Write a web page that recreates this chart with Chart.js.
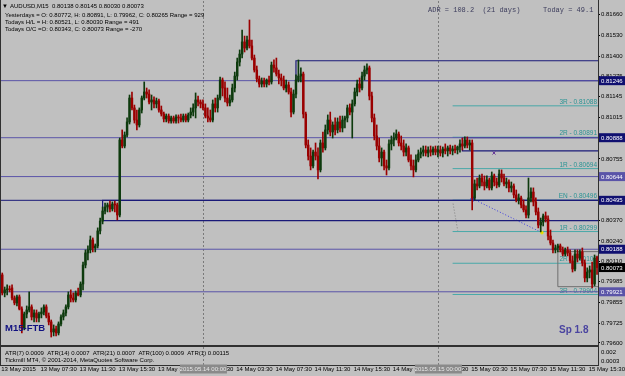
<!DOCTYPE html>
<html>
<head>
<meta charset="utf-8">
<script src="https://cdn.jsdelivr.net/npm/chart.js@4.4.0/dist/chart.umd.min.js"></script>
<style>
  html, body { margin: 0; padding: 0; background: #c0c0c0; overflow: hidden; }
  canvas { display: block; }
</style>
</head>
<body>
<canvas id="chart" width="625" height="376"></canvas>
<script>
// ===================================
//   AUDUSD M15 — 13..15 May 2015
//   candles
// ===================================

const opens = [
  0.80027,0.79914,0.79933,0.79939,0.79945,0.79882,0.79851,0.79889,0.79813,0.79694,0.79782,0.79807,
  0.79826,0.79763,0.79788,0.79757,0.79782,0.79794,0.79826,0.79769,0.79732,0.79669,0.79688,0.79663,
  0.79719,0.79763,0.79788,0.79826,0.79901,0.79882,0.79870,0.79914,0.79901,0.79970,0.80089,0.80165,
  0.80184,0.80246,0.80196,0.80209,0.80303,0.80365,0.80428,0.80453,0.80466,0.80441,0.80472,0.80466,
  0.80403,0.80874,0.80836,0.80905,0.80987,0.81137,0.81075,0.80999,0.80968,0.81062,0.81137,0.81175,
  0.81162,0.81112,0.81125,0.81100,0.81119,0.81062,0.81037,0.81006,0.81024,0.80993,0.81012,0.80993,
  0.81018,0.81012,0.80999,0.81024,0.80999,0.81031,0.81049,0.81075,0.81125,0.81112,0.81100,0.81075,
  0.81024,0.81012,0.80999,0.81100,0.81075,0.81137,0.81250,0.81200,0.81137,0.81106,0.81125,0.81200,
  0.81275,0.81363,0.81413,0.81489,0.81451,0.81501,0.81464,0.81388,0.81313,0.81257,0.81225,0.81244,
  0.81225,0.81250,0.81238,0.81344,0.81326,0.81288,0.81263,0.81250,0.81200,0.81219,0.81175,0.81049,
  0.81162,0.81250,0.81275,0.81288,0.81037,0.80842,0.80773,0.80711,0.80798,0.80773,0.80686,0.80855,
  0.80824,0.80937,0.80999,0.80924,0.80968,0.80937,0.80987,0.80949,0.80999,0.81012,0.81075,0.81049,
  0.81100,0.81175,0.81225,0.81200,0.81275,0.81313,0.81326,0.81150,0.81012,0.80899,0.80836,0.80761,
  0.80798,0.80711,0.80698,0.80849,0.80874,0.80886,0.80911,0.80855,0.80836,0.80798,0.80824,0.80748,
  0.80711,0.80686,0.80748,0.80786,0.80798,0.80811,0.80792,0.80811,0.80798,0.80817,0.80798,0.80811,
  0.80792,0.80817,0.80805,0.80824,0.80805,0.80817,0.80811,0.80830,0.80849,0.80836,0.80874,0.80842,
  0.80855,0.80510,0.80598,0.80585,0.80635,0.80610,0.80585,0.80623,0.80573,0.80648,0.80610,0.80591,
  0.80660,0.80635,0.80598,0.80610,0.80573,0.80585,0.80529,0.80497,0.80510,0.80466,0.80435,0.80403,
  0.80510,0.80547,0.80485,0.80422,0.80340,0.80359,0.80397,0.80378,0.80271,0.80227,0.80184,0.80196,
  0.80209,0.80184,0.80158,0.80184,0.80165,0.80115,0.80064,0.80158,0.80133,0.80171,0.80102,0.80008,
  0.80045,0.80058,0.79970,0.80138
];
const highs = [
  0.80039,0.79951,0.79964,0.79958,0.79964,0.79895,0.79901,0.79901,0.79826,0.79794,0.79832,0.79920,
  0.79839,0.79807,0.79807,0.79794,0.79820,0.79839,0.79839,0.79788,0.79744,0.79713,0.79706,0.79732,
  0.79776,0.79807,0.79839,0.79920,0.79933,0.79914,0.79926,0.79945,0.79983,0.80108,0.80184,0.80209,
  0.80271,0.80259,0.80221,0.80322,0.80384,0.80453,0.80478,0.80478,0.80491,0.80485,0.80491,0.80478,
  0.80886,0.80937,0.80924,0.81012,0.81156,0.81175,0.81093,0.81062,0.81075,0.81150,0.81238,0.81200,
  0.81188,0.81156,0.81144,0.81137,0.81131,0.81087,0.81049,0.81037,0.81037,0.81024,0.81024,0.81031,
  0.81031,0.81037,0.81037,0.81037,0.81043,0.81075,0.81100,0.81169,0.81150,0.81125,0.81125,0.81100,
  0.81075,0.81062,0.81125,0.81137,0.81156,0.81269,0.81263,0.81238,0.81200,0.81156,0.81225,0.81300,
  0.81388,0.81439,0.81564,0.81526,0.81526,0.81627,0.81501,0.81407,0.81338,0.81275,0.81263,0.81263,
  0.81257,0.81275,0.81363,0.81376,0.81388,0.81313,0.81288,0.81275,0.81250,0.81238,0.81200,0.81188,
  0.81282,0.81376,0.81326,0.81300,0.81049,0.80874,0.80824,0.80811,0.80855,0.80824,0.80874,0.80924,
  0.80968,0.81031,0.81049,0.80987,0.81012,0.81012,0.81024,0.81024,0.81024,0.81093,0.81100,0.81125,
  0.81200,0.81250,0.81263,0.81300,0.81338,0.81351,0.81338,0.81175,0.81037,0.80968,0.80886,0.80824,
  0.80811,0.80748,0.80874,0.80899,0.80918,0.80937,0.80924,0.80899,0.80874,0.80849,0.80836,0.80780,
  0.80748,0.80780,0.80811,0.80824,0.80836,0.80836,0.80830,0.80836,0.80830,0.80836,0.80836,0.80836,
  0.80830,0.80849,0.80836,0.80842,0.80836,0.80842,0.80836,0.80874,0.80886,0.80893,0.80893,0.80874,
  0.80874,0.80623,0.80635,0.80654,0.80660,0.80648,0.80648,0.80635,0.80673,0.80660,0.80635,0.80686,
  0.80686,0.80660,0.80635,0.80623,0.80610,0.80598,0.80560,0.80535,0.80522,0.80497,0.80460,0.80635,
  0.80573,0.80573,0.80510,0.80447,0.80384,0.80409,0.80422,0.80397,0.80309,0.80246,0.80215,0.80221,
  0.80221,0.80202,0.80196,0.80202,0.80184,0.80146,0.80184,0.80184,0.80184,0.80196,0.80121,0.80071,
  0.80083,0.80108,0.80152,0.80145
];
const lows = [
  0.79901,0.79889,0.79901,0.79920,0.79870,0.79839,0.79832,0.79807,0.79663,0.79682,0.79757,0.79794,
  0.79744,0.79732,0.79732,0.79732,0.79757,0.79776,0.79757,0.79713,0.79637,0.79644,0.79644,0.79650,
  0.79706,0.79744,0.79769,0.79813,0.79857,0.79857,0.79857,0.79895,0.79889,0.79933,0.80071,0.80121,
  0.80165,0.80171,0.80171,0.80196,0.80284,0.80347,0.80409,0.80422,0.80422,0.80428,0.80422,0.80372,
  0.80391,0.80824,0.80824,0.80893,0.80974,0.81062,0.80980,0.80937,0.80955,0.81043,0.81125,0.81137,
  0.81100,0.81062,0.81075,0.81075,0.81049,0.81024,0.80987,0.80987,0.80980,0.80980,0.80980,0.80980,
  0.80980,0.80987,0.80987,0.80987,0.80987,0.81012,0.81024,0.81012,0.81087,0.81075,0.81062,0.81012,
  0.80987,0.80987,0.80987,0.81049,0.81049,0.81125,0.81150,0.81112,0.81087,0.81087,0.81112,0.81175,
  0.81250,0.81338,0.81388,0.81426,0.81439,0.81451,0.81376,0.81300,0.81238,0.81206,0.81206,0.81206,
  0.81206,0.81219,0.81225,0.81300,0.81275,0.81225,0.81213,0.81188,0.81175,0.81162,0.81018,0.81037,
  0.81137,0.81238,0.81238,0.81012,0.80824,0.80748,0.80686,0.80698,0.80748,0.80629,0.80673,0.80798,
  0.80811,0.80911,0.80899,0.80886,0.80905,0.80918,0.80924,0.80924,0.80949,0.80987,0.81031,0.80886,
  0.81087,0.81150,0.81175,0.81188,0.81250,0.81288,0.81125,0.80987,0.80874,0.80811,0.80736,0.80711,
  0.80686,0.80654,0.80686,0.80811,0.80836,0.80874,0.80836,0.80811,0.80773,0.80773,0.80736,0.80686,
  0.80642,0.80673,0.80736,0.80761,0.80773,0.80773,0.80767,0.80773,0.80780,0.80780,0.80767,0.80773,
  0.80767,0.80786,0.80773,0.80786,0.80780,0.80792,0.80786,0.80798,0.80811,0.80824,0.80824,0.80811,
  0.80435,0.80497,0.80560,0.80573,0.80585,0.80560,0.80573,0.80560,0.80560,0.80585,0.80573,0.80579,
  0.80610,0.80585,0.80573,0.80547,0.80547,0.80510,0.80485,0.80472,0.80447,0.80422,0.80384,0.80384,
  0.80485,0.80460,0.80403,0.80322,0.80297,0.80334,0.80359,0.80246,0.80215,0.80165,0.80165,0.80171,
  0.80171,0.80146,0.80146,0.80146,0.80102,0.80045,0.80052,0.80108,0.80121,0.80083,0.79983,0.79983,
  0.80008,0.79945,0.79958,0.80030
];
const closes = [
  0.79914,0.79933,0.79939,0.79933,0.79882,0.79851,0.79889,0.79813,0.79694,0.79782,0.79807,0.79826,
  0.79763,0.79788,0.79757,0.79782,0.79794,0.79826,0.79769,0.79732,0.79669,0.79688,0.79663,0.79719,
  0.79763,0.79788,0.79826,0.79901,0.79882,0.79870,0.79914,0.79901,0.79970,0.80089,0.80165,0.80184,
  0.80246,0.80196,0.80209,0.80303,0.80365,0.80428,0.80453,0.80466,0.80441,0.80472,0.80466,0.80403,
  0.80874,0.80836,0.80905,0.80987,0.81137,0.81075,0.80999,0.80968,0.81062,0.81137,0.81175,0.81162,
  0.81112,0.81125,0.81100,0.81119,0.81062,0.81037,0.81006,0.81024,0.80993,0.81012,0.80993,0.81018,
  0.81012,0.80999,0.81024,0.80999,0.81031,0.81049,0.81075,0.81125,0.81112,0.81100,0.81075,0.81024,
  0.81012,0.80999,0.81100,0.81075,0.81137,0.81250,0.81200,0.81137,0.81106,0.81125,0.81200,0.81275,
  0.81363,0.81413,0.81489,0.81451,0.81501,0.81464,0.81388,0.81313,0.81257,0.81225,0.81244,0.81225,
  0.81250,0.81238,0.81344,0.81326,0.81288,0.81263,0.81250,0.81200,0.81219,0.81175,0.81049,0.81162,
  0.81250,0.81275,0.81288,0.81037,0.80842,0.80773,0.80711,0.80798,0.80773,0.80686,0.80855,0.80824,
  0.80937,0.80999,0.80924,0.80968,0.80937,0.80987,0.80949,0.80999,0.81012,0.81075,0.81049,0.81100,
  0.81175,0.81225,0.81200,0.81275,0.81313,0.81326,0.81150,0.81012,0.80899,0.80836,0.80761,0.80798,
  0.80711,0.80698,0.80849,0.80874,0.80886,0.80911,0.80855,0.80836,0.80798,0.80824,0.80748,0.80711,
  0.80686,0.80748,0.80786,0.80798,0.80811,0.80792,0.80811,0.80798,0.80817,0.80798,0.80811,0.80792,
  0.80817,0.80805,0.80824,0.80805,0.80817,0.80811,0.80830,0.80849,0.80836,0.80874,0.80842,0.80855,
  0.80510,0.80598,0.80585,0.80635,0.80610,0.80585,0.80623,0.80573,0.80648,0.80610,0.80591,0.80660,
  0.80635,0.80598,0.80610,0.80573,0.80585,0.80529,0.80497,0.80510,0.80466,0.80435,0.80403,0.80510,
  0.80547,0.80485,0.80422,0.80340,0.80359,0.80397,0.80378,0.80271,0.80227,0.80184,0.80196,0.80209,
  0.80184,0.80158,0.80184,0.80165,0.80115,0.80064,0.80158,0.80133,0.80171,0.80102,0.80008,0.80045,
  0.80058,0.79970,0.80133,0.80073
];

// bar index 0 = 13 May 03:30, one bar every 15 min
const xTickIdx = [0, 16, 32, 48, 64, 80, 96, 112, 128, 144, 160, 176, 192, 208, 224, 240];
const xTickLabels = ['13 May 2015', '13 May 07:30', '13 May 11:30', '13 May 15:30', '13 May 19:30',
  '13 May 23:30', '14 May 03:30', '14 May 07:30', '14 May 11:30', '14 May 15:30', '14 May 19:30',
  '14 May 23:30', '15 May 03:30', '15 May 07:30', '15 May 11:30', '15 May 15:30'];
const daySepIdx = [82, 178];
const daySepLabels = ['2015.05.14 00:00', '2015.05.15 00:00'];

const yTicks = [0.81660, 0.81530, 0.81400, 0.81275, 0.81145, 0.81015, 0.80885, 0.80755, 0.80625,
  0.80495, 0.80370, 0.80240, 0.80110, 0.79985, 0.79855, 0.79725, 0.79600];

// horizontal levels drawn across the whole chart
const levels = [0.81246, 0.80888, 0.80644, 0.80495, 0.80188, 0.79921];
// zone boxes: [first bar, lower price, upper price]
const zones = [[120, 0.81246, 0.81371], [41, 0.80367, 0.80495], [188, 0.80805, 0.80888]];
const grayBox = [227, 0.79953, 0.80173];

// pivot ladder drawn from bar 184
const pivotStart = 184;
const pivotNames = ['3R', '2R', '1R', 'EN', '1R', '2R', '3R'];
const pivotValues = [0.81088, 0.80891, 0.80694, 0.80496, 0.80299, 0.80100, 0.79904];

// trend sketches [bar, price]
const grayDotted = [[184.2, 0.80474], [186.1, 0.80304]];
const blueDotted = [[192.3, 0.80504], [220.5, 0.80292]];
const crossMark = [200.9, 0.80792];

// price tags on the right axis
const tagPrices = [0.81246, 0.80888, 0.80644, 0.80495, 0.80188, 0.80073, 0.79921];
const tagColors = ['#101070', '#101070', '#5a54a8', '#101070', '#101070', '#000000', '#5a54a8'];

const headerLines = [
  'AUDUSD,M15  0.80138 0.80145 0.80030 0.80073',
  'Yesterdays = O: 0.80772, H: 0.80891, L: 0.79962, C: 0.80265 Range = 929',
  'Todays H/L = H: 0.80521, L: 0.80030 Range = 491',
  'Todays O/C =O: 0.80343, C: 0.80073 Range = -270'
];
const atrText = 'ATR(7) 0.0009  ATR(14) 0.0007  ATR(21) 0.0007  ATR(100) 0.0009  ATR(1) 0.00115';

const X_MIN = -0.92, X_MAX = 243.4;
const Y_MIN = 0.79587, Y_MAX = 0.81746;
const BULL = '#0d3a0d', BEAR = '#9a0000';
const SLATE = '#5a54a8', NAVY = '#1a1a78', TEAL = '#48a8a8';
const FONT = '"Liberation Sans", Arial, sans-serif';

const idx = opens.map((_, i) => i);
const candleColors = idx.map(i => closes[i] >= opens[i] ? BULL : BEAR);

function seg(points, color, width, dash) {
  return {
    type: 'line',
    data: points.map(p => ({ x: p[0], y: p[1] })),
    borderColor: color,
    borderWidth: width,
    borderDash: dash || [],
    pointRadius: 0,
    pointHoverRadius: 0,
    fill: false,
    tension: 0,
    order: 2
  };
}

const lineSets = [];
levels.forEach(p => lineSets.push(seg([[X_MIN, p], [X_MAX, p]], p === 0.80495 ? NAVY : SLATE, 1)));
zones.forEach(z => {
  lineSets.push(seg([[X_MAX, z[1]], [z[0], z[1]], [z[0], z[2]], [X_MAX, z[2]]], NAVY, 1.2));
});
lineSets.push(seg([[grayBox[0], grayBox[1]], [grayBox[0], grayBox[2]], [X_MAX, grayBox[2]]], '#6e6e6e', 1));
lineSets.push(seg([[grayBox[0], grayBox[1]], [X_MAX, grayBox[1]]], '#6e6e6e', 1));
pivotValues.forEach(p => lineSets.push(seg([[pivotStart, p], [X_MAX, p]], TEAL, 1)));
lineSets.push(seg(grayDotted, '#808080', 1, [1, 2]));
lineSets.push(seg(blueDotted, '#3a3ae0', 1, [1, 2]));

const markers = [
  { type: 'scatter', data: [{ x: blueDotted[0][0], y: blueDotted[0][1] }], pointStyle: 'cross',
    pointRadius: 2.5, pointHoverRadius: 0, borderColor: '#2020d0', borderWidth: 1.5, order: 1 },
  { type: 'scatter', data: [{ x: blueDotted[1][0], y: blueDotted[1][1] }], pointStyle: 'circle',
    pointRadius: 1.3, pointHoverRadius: 0, backgroundColor: '#e8e000', borderColor: '#e8e000', order: 1 },
  { type: 'scatter', data: [{ x: crossMark[0], y: crossMark[1] }], pointStyle: 'crossRot',
    pointRadius: 2.2, pointHoverRadius: 0, borderColor: '#6a3a9a', borderWidth: 1, order: 1 }
];

const mt4Plugin = {
  id: 'mt4',
  beforeDraw(chart) {
    const { ctx, width, height } = chart;
    ctx.save();
    ctx.fillStyle = '#c0c0c0';
    ctx.fillRect(0, 0, width, height);
    ctx.restore();
  },
  beforeDatasetsDraw(chart) {
    const { ctx, chartArea } = chart;
    const xs = chart.scales.x, ys = chart.scales.y;
    ctx.save();
    ctx.strokeStyle = '#7a7a7a';
    ctx.lineWidth = 1;
    ctx.setLineDash([2, 2]);
    daySepIdx.forEach(i => {
      const x = Math.round(xs.getPixelForValue(i)) + 0.5;
      ctx.beginPath();
      ctx.moveTo(x, 1);
      ctx.lineTo(x, 366);
      ctx.stroke();
    });
    ctx.setLineDash([]);
    // pivot captions sit under the candles, like MT4 objects
    ctx.font = '6.5px ' + FONT;
    ctx.fillStyle = '#2a9494';
    ctx.textAlign = 'right';
    ctx.textBaseline = 'bottom';
    pivotValues.forEach((p, k) => {
      ctx.fillText(pivotNames[k] + ' - ' + p.toFixed(5), chartArea.right - 1, ys.getPixelForValue(p) - 0.5);
    });
    ctx.restore();
  },
  afterDraw(chart) {
    const { ctx, chartArea } = chart;
    const xs = chart.scales.x, ys = chart.scales.y;
    ctx.save();

    // header text, top left
    ctx.fillStyle = '#000';
    ctx.font = '6px ' + FONT;
    ctx.textBaseline = 'middle';
    ctx.textAlign = 'left';
    ctx.fillText('\u25BC', 2, 6);
    ctx.fillText(headerLines[0], 10, 6);
    ctx.fillText(headerLines[1], 5, 15);
    ctx.fillText(headerLines[2], 5, 22);
    ctx.fillText(headerLines[3], 5, 29);

    // ADR box text
    ctx.fillStyle = '#3c3c5c';
    ctx.font = '7px "Liberation Mono", "DejaVu Sans Mono", monospace';
    ctx.fillText('ADR = 108.2  (21 days)', 428, 10);
    ctx.fillText('Today = 49.1', 543, 10);

    // labels in the chart body
    ctx.fillStyle = '#101080';
    ctx.font = 'bold 9.5px ' + FONT;
    ctx.fillText('M15-FTB', 5, 328);
    ctx.fillStyle = '#4a44a0';
    ctx.font = 'bold 10px ' + FONT;
    ctx.fillText('Sp 1.8', 559, 330);

    // indicator pane
    ctx.fillStyle = '#c0c0c0';
    ctx.fillRect(0, 346, chartArea.right, 20);
    ctx.strokeStyle = '#303030';
    ctx.lineWidth = 2;
    ctx.beginPath(); ctx.moveTo(0, 346); ctx.lineTo(chartArea.right, 346); ctx.stroke();
    ctx.lineWidth = 1;
    ctx.beginPath(); ctx.moveTo(0, 365.5); ctx.lineTo(chartArea.right, 365.5); ctx.stroke();
    ctx.beginPath(); ctx.moveTo(chartArea.right + 0.5, 0); ctx.lineTo(chartArea.right + 0.5, 366); ctx.stroke();
    ctx.beginPath(); ctx.moveTo(0.5, 0); ctx.lineTo(0.5, 366); ctx.stroke();
    ctx.strokeStyle = '#7a7a7a';
    ctx.setLineDash([2, 2]);
    daySepIdx.forEach(i => {
      const x = Math.round(xs.getPixelForValue(i)) + 0.5;
      ctx.beginPath(); ctx.moveTo(x, 347); ctx.lineTo(x, 365); ctx.stroke();
    });
    ctx.setLineDash([]);
    ctx.fillStyle = '#000';
    ctx.font = '6px ' + FONT;
    ctx.fillText(atrText, 5, 353);
    ctx.fillText('Tickmill MT4, \u00A9 2001-2014, MetaQuotes Software Corp.', 5, 360);
    ctx.fillText('0.002', 601, 352);
    ctx.fillText('0.0003', 601, 361);

    // time axis labels, left aligned on their bars
    xTickIdx.forEach((i, k) => {
      ctx.fillText(xTickLabels[k], xs.getPixelForValue(i) - 1, 369);
    });

    // price tags
    tagPrices.forEach((p, k) => {
      const y = ys.getPixelForValue(p);
      ctx.fillStyle = tagColors[k];
      ctx.fillRect(chartArea.right + 1, y - 4.5, 26, 9);
      ctx.fillStyle = '#fff';
      ctx.fillText(p.toFixed(5), chartArea.right + 3, y + 0.5);
    });

    // day separator labels on the time axis
    daySepIdx.forEach((i, k) => {
      const x = xs.getPixelForValue(i);
      ctx.fillStyle = '#8a8a8a';
      ctx.fillRect(x - 23, 364.5, 47, 9);
      ctx.fillStyle = '#e8e8e8';
      ctx.textAlign = 'center';
      ctx.fillText(daySepLabels[k], x, 369);
      ctx.textAlign = 'left';
    });
    ctx.restore();
  }
};

new Chart(document.getElementById('chart'), {
  type: 'bar',
  data: {
    datasets: [
      {
        label: 'bodies',
        data: idx.map(i => ({ x: i, y: [opens[i], closes[i]] })),
        backgroundColor: candleColors,
        borderWidth: 0,
        barThickness: 1.8,
        minBarLength: 1,
        grouped: false,
        order: 0
      },
      {
        label: 'wicks',
        data: idx.map(i => ({ x: i, y: [lows[i], highs[i]] })),
        backgroundColor: candleColors,
        borderWidth: 0,
        barThickness: 1,
        grouped: false,
        order: 0
      },
      ...markers,
      ...lineSets
    ]
  },
  options: {
    responsive: false,
    devicePixelRatio: 1,
    animation: false,
    events: [],
    layout: { padding: { left: 0, top: 1, right: 0, bottom: 31 }, autoPadding: false },
    plugins: { legend: { display: false }, tooltip: { enabled: false } },
    scales: {
      x: {
        type: 'linear',
        display: false,
        min: X_MIN,
        max: X_MAX,
        offset: false
      },
      y: {
        type: 'linear',
        position: 'right',
        min: Y_MIN,
        max: Y_MAX,
        beginAtZero: false,
        afterBuildTicks: s => { s.ticks = yTicks.map(v => ({ value: v })); },
        afterFit: s => { s.width = 27; s.paddingTop = 0; s.paddingBottom = 0; },
        ticks: {
          autoSkip: false,
          color: '#000',
          padding: 1,
          font: { family: 'Liberation Sans', size: 6 },
          callback: v => v.toFixed(5)
        },
        grid: { drawOnChartArea: false, drawTicks: true, tickLength: 2, tickColor: '#000' },
        border: { display: true, color: '#000', width: 1 }
      }
    }
  },
  plugins: [mt4Plugin]
});
</script>
</body>
</html>
